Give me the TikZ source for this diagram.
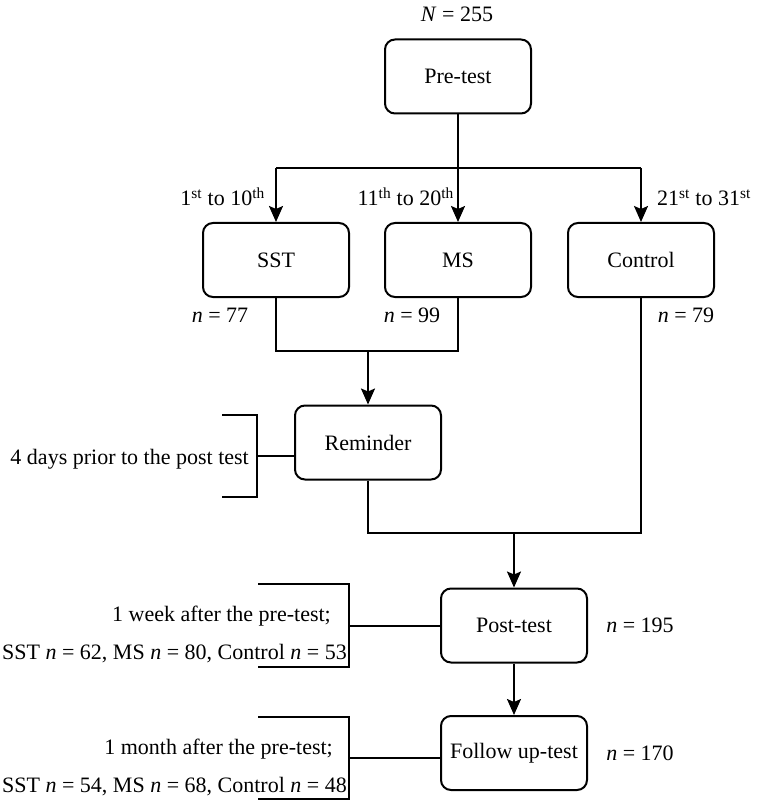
\documentclass[tikz,border=0pt]{standalone}
\usepackage{fontspec}
\setmainfont{Liberation Serif}
\usetikzlibrary{arrows.meta}
\begin{document}
\begin{tikzpicture}[x=1pt,y=-1pt,
  every node/.style={font=\fontsize{22}{26}\selectfont, inner sep=0pt},
  box/.style={draw, line width=2pt, rounded corners=10pt, minimum width=146pt, minimum height=74pt, align=center},
  ln/.style={line width=2pt},
  arr/.style={ln, -{Stealth[length=16pt,width=14pt,inset=3pt]}}]
\useasboundingbox (0,0) rectangle (762,802);
% boxes
\node[box] (pre) at (458,76.5) {Pre-test};
\node[box] (sst) at (276,260) {SST};
\node[box] (ms) at (458,260) {MS};
\node[box] (ctrl) at (641,260) {Control};
\node[box] (rem) at (368,442.5) {Reminder};
\node[box] (post) at (514,625.5) {Post-test};
\node[box] (fol) at (514,753) {Follow up-test};
% labels
\node (N) at (457,14) {\textit{N} = 255};
\node[anchor=base east] (l1) at (265,206) {1\textsuperscript{st} to 10\textsuperscript{th}};
\node[anchor=base east] (l2) at (454,206) {11\textsuperscript{th} to 20\textsuperscript{th}};
\node[anchor=base west] (l3) at (657,206) {21\textsuperscript{st} to 31\textsuperscript{st}};
\node (n77) at (220,315) {\textit{n} = 77};
\node (n99) at (412,315) {\textit{n} = 99};
\node (n79) at (686,315) {\textit{n} = 79};
\node (n195) at (640,625) {\textit{n} = 195};
\node (n170) at (640,753) {\textit{n} = 170};
\node[anchor=base east] (t1) at (249,464) {4 days prior to the post test};
\node[anchor=base east] (t2) at (331,621) {1 week after the pre-test;};
\node[anchor=base east] (t3) at (347,659) {SST \textit{n} = 62, MS \textit{n} = 80, Control \textit{n} = 53};
\node[anchor=base east] (t4) at (333,754) {1 month after the pre-test;};
\node[anchor=base east] (t5) at (347,792) {SST \textit{n} = 54, MS \textit{n} = 68, Control \textit{n} = 48};
% junction coordinates
\coordinate (hl) at (276,168);
\coordinate (hr) at (641,168);
\coordinate (j1) at (368,351);
\coordinate (j2) at (514,533);
% connectors
\draw[arr] (pre.south) -- (ms.north);
\draw[ln] (hl) -- (hr);
\draw[arr] (hl) -- (sst.north);
\draw[arr] (hr) -- (ctrl.north);
\draw[ln] (sst.south) |- (j1) -| (ms.south);
\draw[arr] (j1) -- (rem.north);
\draw[ln] (rem.south) |- (j2) -| (ctrl.south);
\draw[arr] (j2) -- (post.north);
\draw[arr] (post.south) -- (fol.north);
% brackets
\coordinate (b1t) at (222,415); \coordinate (b1b) at (222,497); \coordinate (b1m) at (257,456);
\draw[ln] (b1t) -- (257,415) -- (257,497) -- (b1b);
\draw[ln] (b1m) -- (b1m -| rem.west);
\coordinate (b2t) at (258,584); \coordinate (b2b) at (258,667); \coordinate (b2m) at (349,626);
\draw[ln] (b2t) -- (349,584) -- (349,667) -- (b2b);
\draw[ln] (b2m) -- (b2m -| post.west);
\coordinate (b3t) at (258,717); \coordinate (b3b) at (258,799); \coordinate (b3m) at (349,758);
\draw[ln] (b3t) -- (349,717) -- (349,799) -- (b3b);
\draw[ln] (b3m) -- (b3m -| fol.west);
\end{tikzpicture}
\end{document}
